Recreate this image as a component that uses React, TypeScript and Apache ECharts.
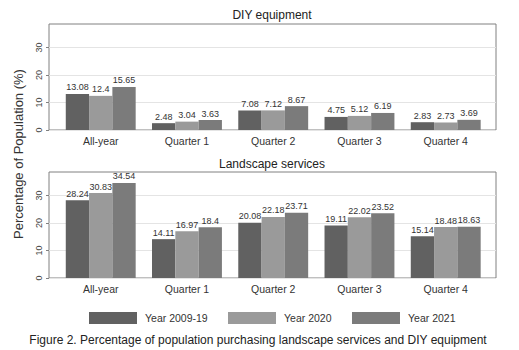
import React, { useEffect, useRef } from "react";
import * as echarts from "echarts";

const categories = ["All-year", "Quarter 1", "Quarter 2", "Quarter 3", "Quarter 4"];
const seriesNames = ["Year 2009-19", "Year 2020", "Year 2021"];
const diy2009 = [13.08, 2.48, 7.08, 4.75, 2.83];
const diy2020 = [12.4, 3.04, 7.12, 5.12, 2.73];
const diy2021 = [15.65, 3.63, 8.67, 6.19, 3.69];
const land2009 = [28.24, 14.11, 20.08, 19.11, 15.14];
const land2020 = [30.83, 16.97, 22.18, 22.02, 18.48];
const land2021 = [34.54, 18.4, 23.71, 23.52, 18.63];
const yTicks = [0, 10, 20, 30];
const panelTitles = ["DIY equipment", "Landscape services"];
const yTitle = "Percentage of Population (%)";
const caption = "Figure 2. Percentage of population purchasing landscape services and DIY equipment";

const colors = ["#616161", "#9a9a9a", "#7b7b7b"];
const FONT = "Liberation Sans, Arial, sans-serif";
const YMAX = 38.5;

export default function App() {
  const ref = useRef<HTMLDivElement>(null);
  useEffect(() => {
    if (!ref.current) return;
    const chart = echarts.init(ref.current, undefined, { renderer: "svg" });
    const boxLeft = 49;
    const boxWidth = 447;
    const barLeft = 57.6;
    const barWidthTotal = 431.25;
    const tops = [24, 172];
    const h = 106;

    const grids: any[] = [];
    const xAxes: any[] = [];
    const yAxes: any[] = [];
    tops.forEach((t, p) => {
      grids.push({ left: boxLeft, top: t, width: boxWidth, height: h, show: true, borderColor: "#808080", borderWidth: 1, backgroundColor: "#fff" });
      grids.push({ left: barLeft, top: t, width: barWidthTotal, height: h });
      xAxes.push({ type: "value", gridIndex: 2 * p, min: 0, max: 1, show: false });
      xAxes.push({
        type: "category", gridIndex: 2 * p + 1, data: categories,
        axisLine: { show: false }, axisTick: { show: false },
        axisLabel: { fontSize: 10.5, color: "#333", fontFamily: FONT, margin: 5 },
      });
      yAxes.push({
        type: "value", gridIndex: 2 * p, min: 0, max: YMAX, interval: 10,
        axisLine: { show: false },
        axisTick: { show: true, length: 3, customValues: yTicks, lineStyle: { color: "#808080" } },
        splitLine: { show: true, lineStyle: { color: "#e4e4e4", width: 1 } },
        axisLabel: {
          rotate: 90, fontSize: 9, color: "#444", fontFamily: FONT, margin: 6,
          customValues: yTicks,
        },
      });
      yAxes.push({ type: "value", gridIndex: 2 * p + 1, min: 0, max: YMAX, show: false });
    });

    const mk = (name: string, data: number[], p: number, ci: number) => ({
      type: "bar", name, data, xAxisIndex: 2 * p + 1, yAxisIndex: 2 * p + 1,
      barWidth: 23.3, barGap: "0%",
      itemStyle: { color: colors[ci] },
      label: { show: true, position: "top", distance: 2, fontSize: 9, color: "#333", fontFamily: FONT },
    });

    const series = [
      mk(seriesNames[0], diy2009, 0, 0), mk(seriesNames[1], diy2020, 0, 1), mk(seriesNames[2], diy2021, 0, 2),
      mk(seriesNames[0], land2009, 1, 0), mk(seriesNames[1], land2020, 1, 1), mk(seriesNames[2], land2021, 1, 2),
    ];

    const legendLefts = [84, 223, 347];
    const legends = seriesNames.map((n, i) => ({
      data: [n], left: legendLefts[i], top: 307, itemWidth: 48, itemHeight: 12,
      icon: "rect", selectedMode: false,
      textStyle: { fontSize: 10.5, color: "#333", fontFamily: FONT, padding: [0, 0, 0, 3] },
    }));

    chart.setOption({
      animation: false,
      backgroundColor: "#fff",
      color: colors,
      grid: grids,
      xAxis: xAxes,
      yAxis: yAxes,
      series,
      legend: legends,
      graphic: [
        { type: "text", x: 272, y: 15, style: { text: panelTitles[0], fontSize: 12, fill: "#222", fontFamily: FONT, textAlign: "center", textVerticalAlign: "middle" } },
        { type: "text", x: 272, y: 164, style: { text: panelTitles[1], fontSize: 12, fill: "#222", fontFamily: FONT, textAlign: "center", textVerticalAlign: "middle" } },
        { type: "text", x: 18, y: 154, rotation: Math.PI / 2, style: { text: yTitle, fontSize: 13, fill: "#333", fontFamily: FONT, textAlign: "center", textVerticalAlign: "middle" } },
        { type: "text", x: 258, y: 340, style: { text: caption, fontSize: 12, fill: "#222", fontFamily: FONT, textAlign: "center", textVerticalAlign: "middle" } },
      ],
    });
    return () => chart.dispose();
  }, []);
  return <div ref={ref} style={{ position: "absolute", left: 0, top: 0, width: 519, height: 350 }} />;
}
